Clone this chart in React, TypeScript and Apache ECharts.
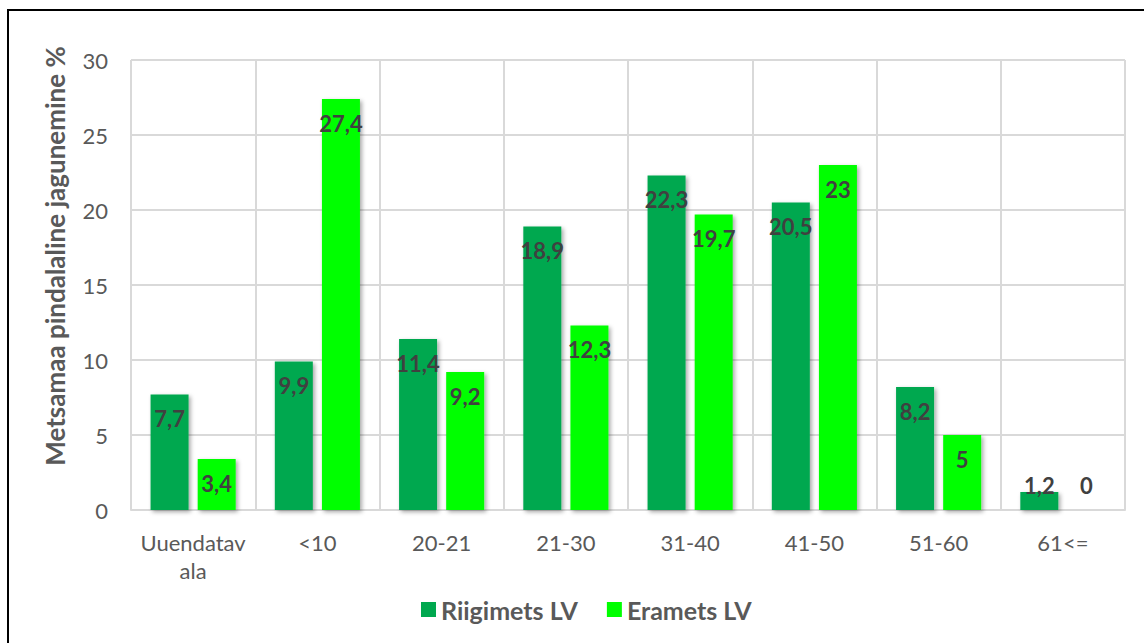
import React, { useEffect, useRef } from "react";
import * as echarts from "echarts";

const categories = ["Uuendatav\nala", "<10", "20-21", "21-30", "31-40", "41-50", "51-60", "61<="];
const riigimets = [7.7, 9.9, 11.4, 18.9, 22.3, 20.5, 8.2, 1.2];
const eramets = [3.4, 27.4, 9.2, 12.3, 19.7, 23, 5, 0];
const seriesNames = ["Riigimets LV", "Eramets LV"];
const axisTitle = "Metsamaa pindalaline jagunemine %";

const FONT = "Lato, 'Noto Sans', sans-serif";
const DARK = "#00A84F";
const LIGHT = "#00FF00";

function buildData(values: number[]) {
  return values.map((v) =>
    v < 2
      ? { value: v, label: { position: "insideBottom", distance: 14 } }
      : { value: v }
  );
}

export default function App() {
  const ref = useRef<HTMLDivElement>(null);
  useEffect(() => {
    if (!ref.current) return;
    const chart = echarts.init(ref.current, undefined, { renderer: "svg" });
    const labelCfg = {
      show: true,
      position: "insideTop",
      distance: 13,
      color: "#404040",
      fontFamily: FONT,
      fontWeight: "bold",
      fontSize: 22,
      formatter: (p: any) => String(p.value).replace(".", ","),
    };
    const shadow = {
      shadowBlur: 4,
      shadowColor: "rgba(0,0,0,0.35)",
      shadowOffsetX: 2,
      shadowOffsetY: 2,
    };
    chart.setOption({
      animation: false,
      backgroundColor: "#ffffff",
      grid: { left: 131, right: 19, top: 60, bottom: 133, containLabel: false },
      legend: {
        data: seriesNames,
        left: 421,
        top: 597,
        padding: 0,
        itemWidth: 15,
        itemHeight: 15,
        itemGap: 29,
        icon: "rect",
        textStyle: { color: "#595959", fontFamily: FONT, fontWeight: "bold", fontSize: 25 },
      },
      xAxis: {
        type: "category",
        data: categories,
        axisLine: { show: true, lineStyle: { color: "#d9d9d9", width: 2 } },
        axisTick: { show: false },
        splitLine: { show: true, interval: 0, lineStyle: { color: "#d9d9d9", width: 2 } },
        axisLabel: {
          interval: 0,
          color: "#595959",
          fontFamily: FONT,
          fontSize: 22,
          lineHeight: 28,
          margin: 18,
        },
      },
      yAxis: {
        type: "value",
        min: 0,
        max: 30,
        interval: 5,
        axisLine: { show: false },
        axisTick: { show: false },
        splitLine: { show: true, lineStyle: { color: "#d9d9d9", width: 2 } },
        axisLabel: { color: "#595959", fontFamily: FONT, fontSize: 22, margin: 23 },
      },
      graphic: [
        {
          type: "rect",
          shape: { x: 8, y: 10, width: 1200, height: 700 },
          style: { fill: "none", stroke: "#000000", lineWidth: 2 },
          silent: true,
        },
        {
          type: "text",
          x: 55,
          y: 256,
          rotation: Math.PI / 2,
          style: {
            text: axisTitle,
            fill: "#595959",
            font: `bold 26px ${FONT}`,
            textAlign: "center",
            textVerticalAlign: "middle",
          },
        },
      ],
      series: [
        {
          name: seriesNames[0],
          type: "bar",
          data: buildData(riigimets),
          barWidth: 38,
          barGap: "24%",
          itemStyle: { color: DARK, ...shadow },
          label: labelCfg,
        },
        {
          name: seriesNames[1],
          type: "bar",
          data: buildData(eramets),
          barWidth: 38,
          itemStyle: { color: LIGHT, ...shadow },
          label: labelCfg,
        },
      ],
    });
    return () => chart.dispose();
  }, []);
  return (
    <div
      ref={ref}
      style={{ position: "absolute", left: 0, top: 0, width: 1144, height: 643, background: "#fff" }}
    />
  );
}
